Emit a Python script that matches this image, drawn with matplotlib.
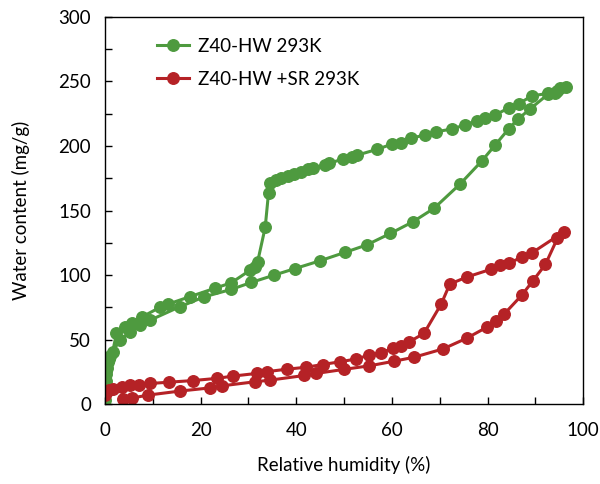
import matplotlib
matplotlib.use('Agg')
import matplotlib.pyplot as plt
from matplotlib.ticker import MultipleLocator

# Z40-HW 293K : adsorption puis désorption
rh_hw = [0.0, 0.1, 0.1, 0.2, 0.3, 0.4, 0.6, 1.0, 3.1, 5.2, 7.4, 9.4, 15.6, 20.8,
         26.4, 30.6, 35.4, 39.7, 44.9, 50.2, 54.7, 59.7, 64.4, 68.8, 74.3, 78.8,
         81.6, 84.4, 86.3, 88.9, 92.7, 94.1, 95.1, 96.5,
         94.5, 92.7, 89.2, 86.5, 84.5, 81.6, 79.5, 77.8, 75.2, 72.6, 69.2, 66.9,
         63.9, 62.0, 60.1, 56.9, 52.8, 51.6, 49.8, 46.9, 46.0, 43.4, 42.4, 41.0,
         39.6, 38.2, 36.8, 35.8, 34.5, 34.2, 33.5, 31.9, 31.3, 30.4, 26.4, 22.9,
         17.7, 13.2, 11.5, 7.8, 5.6, 4.2, 2.4, 1.6, 0.8, 0.3, 0.1, 0.0]
wc_hw = [3, 8, 13, 18, 23, 28, 33, 37, 49.6, 56, 61.2, 65, 75.4, 83.2,
         88.9, 94.3, 100, 105, 111, 117.6, 123.3, 132.3, 141.3, 151.7, 170.7, 188.4,
         200.8, 213.2, 220.7, 228.7, 240.3, 241.3, 244.7, 245.5,
         243, 240.8, 238.8, 232.6, 229.7, 224, 221.5, 219.6, 216.3, 213.2, 211, 208.5,
         206, 202.6, 201.6, 197.4, 193, 191.7, 190, 186.6, 185.3, 182.7, 181.9, 180,
         178.3, 176.7, 175.4, 173.6, 171, 163.8, 137, 110, 106.4, 103.9, 94, 89.7,
         83.2, 77.5, 75, 67.7, 63, 60, 54.8, 40.5, 35, 28, 20, 10]

# Z40-HW +SR 293K
rh_sr = [3.7, 5.6, 9.0, 15.6, 22.0, 24.5, 31.3, 34.5, 41.7, 44.2, 49.9, 55.3,
         60.5, 64.6, 70.7, 75.6, 79.9, 81.8, 83.4, 87.1, 89.4, 92.1, 94.6, 96.0,
         89.2, 87.3, 84.4, 82.7, 80.8, 75.6, 72.1, 70.3, 66.7, 63.5, 61.8, 60.3,
         57.8, 55.3, 52.4, 49.1, 45.5, 42.1, 38.1, 33.9, 31.7, 26.7, 23.5, 18.5,
         13.3, 9.5, 7.2, 5.2, 3.5, 1.7, 0.8, 0.2, 0.0]
wc_sr = [4, 4.7, 7, 10.1, 12.6, 14.2, 17.3, 18.6, 22.2, 23.8, 26.9, 29.7,
         33.3, 36.3, 42.8, 51, 59.7, 64.6, 69.5, 84.2, 95.1, 108.3, 128.4, 133.6,
         117, 114.2, 109, 107.5, 104.6, 98.4, 93, 77.5, 54.8, 48, 45.2, 43.4,
         40, 38, 34.9, 32.8, 30.7, 28.6, 27.1, 25.2, 23.8, 21.7, 20, 18.3,
         17, 16, 15.2, 14.7, 13.4, 12.1, 11, 9.5, 7]

plt.rcParams['font.family'] = ['Lato', 'DejaVu Sans']

fig = plt.figure(figsize=(6, 4.84), dpi=100)
ax = fig.add_axes([0.175, 0.165, 0.797, 0.800])

ax.plot(rh_hw, wc_hw, '-o', color='#4e9a3f', lw=2.2, ms=8.3, label='Z40-HW 293K')
ax.plot(rh_sr, wc_sr, '-o', color='#b52226', lw=2.2, ms=8.3, label='Z40-HW +SR 293K')

ax.set_xlim(0, 100)
ax.set_ylim(0, 300)
ax.xaxis.set_major_locator(MultipleLocator(20))
ax.xaxis.set_minor_locator(MultipleLocator(10))
ax.yaxis.set_major_locator(MultipleLocator(50))
ax.yaxis.set_minor_locator(MultipleLocator(25))
ax.tick_params(which='both', direction='in', length=5, width=1, labelsize=13.5)
ax.tick_params(axis='x', pad=13)
ax.tick_params(axis='y', pad=10)
for s in ax.spines.values():
    s.set_linewidth(1)

ax.set_xlabel('Relative humidity (%)', fontsize=13.5, labelpad=12)
ax.set_ylabel('Water content (mg/g)', fontsize=13.5, labelpad=20)

ax.legend(loc='upper left', frameon=False, fontsize=13.5, handlelength=1.7,
          handletextpad=0.5, borderaxespad=0.6, labelspacing=0.85,
          bbox_to_anchor=(0.07, 0.995))

fig.savefig('out.png', dpi=100)
